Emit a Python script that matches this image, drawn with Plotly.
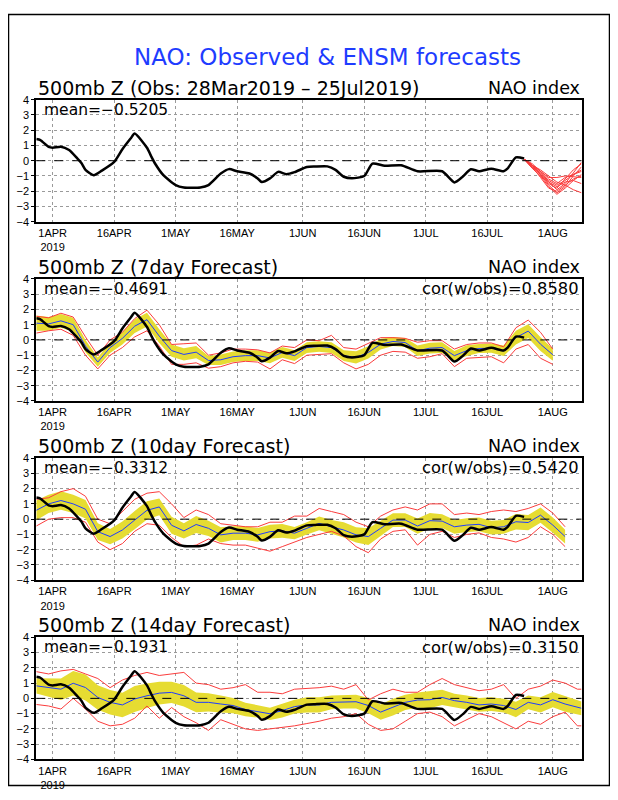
import pandas as pd
import plotly.graph_objects as go

# --- observed NAO index (day offset from 28Mar2019, value) ---
OBS_DAY = [0, 1, 3, 4, 6, 8, 10, 11, 12, 14, 16, 19, 21, 23, 24, 27, 28, 29, 31, 34,
           36, 40, 42, 45, 47, 49, 52, 54, 55, 57, 59, 61, 63, 66, 68, 71, 73, 75, 77, 80,
           82, 85, 89, 93, 99, 102, 104, 106, 108, 111, 114, 115, 117, 119]
OBS_VAL = [1.42, 1.35, 0.9, 0.85, 0.92, 0.7, 0.15, -0.15, -0.6, -0.95, -0.65, -0.08, 0.75, 1.45, 1.78, 0.85, 0.3, -0.2, -0.95, -1.6,
           -1.76, -1.76, -1.6, -0.84, -0.55, -0.69, -0.84, -1.16, -1.4, -1.16, -0.73, -0.88, -0.75, -0.41, -0.38, -0.37, -0.6, -1.05, -1.15, -1.0,
           -0.19, -0.33, -0.3, -0.69, -0.69, -1.42, -1.05, -0.56, -0.69, -0.52, -0.69, -0.5, 0.22, 0.15]

# --- ensemble members of the latest forecast (top panel) ---
ENS_DAY = [119, 121, 123, 125, 127, 129, 131, 133]
MEMBERS = [
    [0.1, -0.3, -0.8, -1.4, -1.9, -1.5, -0.8, -0.1],
    [0.1, -0.4, -0.9, -1.6, -2.1, -1.7, -1.0, -0.4],
    [0.1, -0.3, -0.7, -1.1, -1.1, -1.0, -1.05, -1.1],
    [0.1, -0.5, -1.0, -1.7, -2.2, -1.8, -1.3, -0.9],
    [0.1, -0.4, -0.8, -1.3, -1.6, -1.3, -0.9, -0.6],
    [0.1, -0.3, -0.9, -1.5, -1.8, -1.2, -0.6, -0.2],
    [0.1, -0.4, -1.1, -1.8, -2.0, -1.6, -1.2, -1.0],
    [0.1, -0.3, -0.6, -1.0, -1.4, -1.6, -1.9, -2.1],
    [0.1, -0.5, -1.0, -1.4, -1.7, -1.4, -1.3, -1.5],
    [0.1, -0.2, -0.7, -1.2, -1.5, -1.1, -0.9, -0.7],
]

# --- 7 day forecasts ---
F7_DAY = list(range(0, 127, 3))
F7_MEAN = [1.1, 1.05, 1.25, 1.0, -0.4, -1.45, -0.5, 0.1, 0.9, 1.33, 0.25, -0.7, -0.95, -0.8, -1.35, -1.3, -1.1, -1.03, -1.03, -1.18, -0.82, -1.03,
           -0.5, -0.43, -0.5, -1.03, -1.14, -0.82, -0.28, -0.1, -0.17, -0.71, -0.54, -0.5, -1.03, -0.7, -0.56, -0.54, -0.71, 0.15, 0.58, -0.28, -0.97]
F7_SD = [0.5, 0.45, 0.45, 0.45, 0.4, 0.3, 0.35, 0.4, 0.45, 0.45, 0.45, 0.4, 0.4, 0.4, 0.3, 0.35, 0.35, 0.35, 0.35, 0.35, 0.35, 0.35,
         0.35, 0.35, 0.35, 0.35, 0.4, 0.4, 0.35, 0.3, 0.3, 0.35, 0.35, 0.35, 0.3, 0.35, 0.3, 0.3, 0.35, 0.45, 0.45, 0.45, 0.4]
F7_HI = [1.55, 1.45, 1.75, 1.5, 0.2, -1.0, 0.0, 0.5, 1.4, 1.95, 1.0, -0.3, -0.25, -0.2, -1.0, -0.85, -0.6, -0.6, -0.65, -0.85, -0.4, -0.5,
         0.0, -0.05, 0.3, -0.5, -0.6, -0.2, 0.15, 0.15, 0.1, -0.15, -0.05, -0.05, -0.6, -0.3, -0.2, -0.2, -0.45, 0.8, 1.3, 0.5, -0.6]
F7_LO = [0.45, 0.6, 0.7, 0.3, -1.0, -1.9, -1.0, -0.5, 0.2, 0.6, -0.4, -1.6, -1.6, -1.5, -1.85, -1.75, -1.5, -1.4, -1.45, -1.9, -1.3, -1.55,
         -1.0, -0.95, -0.9, -1.5, -1.9, -1.6, -1.0, -0.75, -0.8, -1.2, -1.1, -0.9, -1.75, -1.2, -1.15, -1.1, -1.5, -0.6, -0.3, -1.2, -1.6]

# --- 10 day forecasts ---
F10_DAY = list(range(0, 130, 3))
F10_MEAN = [0.58, 1.0, 1.22, 1.0, 0.65, -0.82, -1.14, -0.71, -0.06, 0.58, 0.8, -0.4, -0.77, -0.35, -0.6, -1.03, -0.92, -0.92, -1.03, -0.82, -0.77, -0.92, -0.6,
            -0.28, -0.5, -0.71, -1.03, -1.14, -0.6, -0.06, -0.06, -0.45, -0.1, -0.13, -0.5, -0.39, -0.34, -0.56, -0.5, -0.17, -0.22, 0.26, -0.39, -1.14]
F10_SD = [0.65, 0.6, 0.6, 0.6, 0.6, 0.55, 0.5, 0.55, 0.6, 0.6, 0.55, 0.55, 0.5, 0.55, 0.5, 0.5, 0.45, 0.45, 0.45, 0.45, 0.45, 0.4, 0.4,
          0.45, 0.45, 0.5, 0.5, 0.55, 0.5, 0.45, 0.45, 0.5, 0.5, 0.45, 0.45, 0.45, 0.45, 0.45, 0.45, 0.5, 0.5, 0.5, 0.5, 0.45]
F10_HI = [1.3, 1.4, 1.8, 2.0, 1.5, 0.0, -0.3, 0.5, 1.3, 1.7, 1.8, 1.0, 0.1, 0.6, 0.3, -0.3, -0.4, -0.5, -0.5, -0.2, -0.2, 0.2, 0.2,
          0.7, 0.5, 0.3, -0.2, -0.5, 0.2, 0.6, 0.8, 0.6, 1.0, 1.0, 0.3, 0.4, 0.3, 0.5, 0.6, 0.5, 0.7, 1.0, 0.4, -0.5]
F10_LO = [-0.45, 0.0, 0.1, 0.1, -0.2, -1.5, -2.0, -1.6, -0.8, -0.3, -0.4, -1.2, -1.8, -1.7, -1.3, -1.6, -1.7, -1.7, -1.9, -2.1, -1.8, -1.5, -1.2,
          -1.0, -0.8, -1.1, -1.8, -2.2, -1.3, -0.8, -0.7, -1.7, -1.0, -0.8, -1.2, -1.0, -0.9, -1.2, -1.3, -1.5, -1.2, -0.5, -1.0, -1.8]

# --- 14 day forecasts ---
F14_DAY = list(range(0, 133, 3)) + [133]
F14_MEAN = [0.82, 0.71, 0.6, 0.99, 0.71, 0.06, -0.26, -0.43, -0.04, 0.17, 0.34, 0.39, 0.17, -0.26, -0.26, -0.37, -0.47, -0.73, -0.86, -1.01, -0.8, -0.54, -0.43,
            -0.43, -0.26, -0.22, -0.22, -0.47, -0.9, -0.58, -0.26, -0.11, -0.09, 0.06, -0.15, -0.26, -0.43, -0.37, -0.47, -0.73, -0.26, -0.43, -0.09, -0.37, -0.58, -0.65]
F14_SD = [0.5, 0.6, 0.7, 0.8, 0.85, 0.8, 0.8, 0.8, 0.85, 0.8, 0.75, 0.7, 0.7, 0.65, 0.6, 0.55, 0.5, 0.45, 0.4, 0.4, 0.45, 0.45, 0.5,
          0.5, 0.45, 0.45, 0.45, 0.5, 0.5, 0.55, 0.5, 0.5, 0.55, 0.5, 0.45, 0.45, 0.45, 0.45, 0.45, 0.5, 0.45, 0.5, 0.5, 0.5, 0.45, 0.45]
F14_HI = [1.75, 1.6, 1.8, 1.9, 1.6, 1.3, 0.7, 1.2, 1.5, 1.7, 1.5, 1.6, 1.7, 1.0, 0.9, 0.6, 0.7, 0.9, 0.4, 0.4, 0.3, 0.6, 0.65,
          0.7, 0.8, 0.6, 0.9, -0.1, 0.3, 0.6, 0.4, 0.4, 0.9, 1.3, 0.9, 0.7, 0.5, 0.6, 0.9, 0.0, 0.6, 0.8, 1.2, 1.0, 0.6, 0.6]
F14_LO = [-0.4, -0.5, -0.7, 0.0, -0.7, -1.5, -1.8, -1.7, -1.3, -0.5, -1.3, -0.6, -1.2, -1.6, -2.1, -1.4, -1.7, -2.0, -2.1, -2.0, -1.9, -1.8, -1.65,
          -1.5, -1.3, -1.2, -1.0, -1.7, -2.1, -2.0, -1.5, -1.0, -0.9, -1.2, -1.8, -1.4, -1.0, -1.2, -1.6, -2.0, -1.5, -1.7, -1.2, -0.9, -1.8, -1.8]

PANEL_TITLES = ["500mb Z (Obs: 28Mar2019 \u2013 25Jul2019)", "500mb Z (7day Forecast)",
                "500mb Z (10day Forecast)", "500mb Z (14day Forecast)"]
MEANS = ["\u22120.5205", "\u22120.4691", "\u22120.3312", "\u22120.1931"]
CORS = [None, "0.8580", "0.5420", "0.3150"]

TICK_DATES = ["2019-04-01", "2019-04-16", "2019-05-01", "2019-05-16", "2019-06-01",
              "2019-06-16", "2019-07-01", "2019-07-16", "2019-08-01"]
TICK_TEXT = ["1APR<br>2019", "16APR", "1MAY", "16MAY", "1JUN", "16JUN", "1JUL", "16JUL", "1AUG"]

BASE = pd.Timestamp("2019-03-28")

# the page puts an 8px margin round the figure, so the figure is 16px smaller
PAGE_PAD = 8
W, H = 618 - 2 * PAGE_PAD, 800 - 2 * PAGE_PAD

RED = "#fa3c3c"
BLUE = "#1e3cff"
YELLOW = "#e6dc32"
FONT = "DejaVu Sans"
TICK_FONT = "Liberation Sans Narrow, Liberation Sans, Arial"


def to_dates(days):
    return BASE + pd.to_timedelta(days, unit="D")


def px(x):
    # screen x pixel -> paper
    return (x - PAGE_PAD) / W


def py(y):
    # screen y pixel -> paper
    return 1 - (y - PAGE_PAD) / H


# panel pixel boxes on screen (top, bottom)
PANEL_PX = [(95, 219), (277, 401), (459, 583), (641, 765)]
X_DOM = [px(36.3), px(581.5)]

fig = go.Figure()
layout = {}
shapes = []
annotations = []

forecasts = [None,
             (F7_DAY, F7_MEAN, F7_SD, F7_HI, F7_LO),
             (F10_DAY, F10_MEAN, F10_SD, F10_HI, F10_LO),
             (F14_DAY, F14_MEAN, F14_SD, F14_HI, F14_LO)]

for i, (top, bot) in enumerate(PANEL_PX):
    n = "" if i == 0 else str(i + 1)
    xa, ya = "x" + n, "y" + n

    fc = forecasts[i]
    if fc is None:
        # ensemble members in red
        for m in MEMBERS:
            fig.add_trace(go.Scatter(x=to_dates(ENS_DAY), y=m, mode="lines",
                                     line=dict(color=RED, width=1), xaxis=xa, yaxis=ya,
                                     showlegend=False, hoverinfo="skip"))
    else:
        days, mean, sd, hi, lo = fc
        d = to_dates(days)
        upper = [a + b for a, b in zip(mean, sd)]
        lower = [a - b for a, b in zip(mean, sd)]
        # yellow spread band
        fig.add_trace(go.Scatter(x=d, y=upper, mode="lines", line=dict(width=0, color=YELLOW),
                                 xaxis=xa, yaxis=ya, showlegend=False, hoverinfo="skip"))
        fig.add_trace(go.Scatter(x=d, y=lower, mode="lines", line=dict(width=0, color=YELLOW),
                                 fill="tonexty", fillcolor=YELLOW,
                                 xaxis=xa, yaxis=ya, showlegend=False, hoverinfo="skip"))
        # max / min of the members
        for s in (hi, lo):
            fig.add_trace(go.Scatter(x=d, y=s, mode="lines", line=dict(color=RED, width=1),
                                     xaxis=xa, yaxis=ya, showlegend=False, hoverinfo="skip"))
        fig.add_trace(go.Scatter(x=d, y=mean, mode="lines", line=dict(color=BLUE, width=1),
                                 xaxis=xa, yaxis=ya, showlegend=False))

    # observed
    fig.add_trace(go.Scatter(x=to_dates(OBS_DAY), y=OBS_VAL, mode="lines",
                             line=dict(color="black", width=2.5, shape="spline", smoothing=0.6),
                             xaxis=xa, yaxis=ya, showlegend=False))

    layout["xaxis" + n] = dict(
        domain=X_DOM, anchor=ya, type="date",
        range=["2019-03-28", "2019-08-08"],
        tickvals=TICK_DATES, ticktext=TICK_TEXT, ticks="",
        tickfont=dict(family=TICK_FONT, size=11, color="black"),
        showgrid=True, gridcolor="#9a9a9a", griddash="dot", gridwidth=1,
        showline=True, mirror=True, linecolor="black", linewidth=2,
        zeroline=False, fixedrange=True,
    )
    layout["yaxis" + n] = dict(
        domain=[py(bot), py(top)], anchor=xa, range=[-4, 4],
        tickvals=list(range(-4, 5)), ticks="outside", ticklen=3, tickcolor="black",
        tickfont=dict(family="Liberation Sans, Arial", size=11, color="black"),
        showgrid=True, gridcolor="#9a9a9a", griddash="dot", gridwidth=1,
        showline=True, mirror=True, linecolor="black", linewidth=2,
        zeroline=False, fixedrange=True,
    )

    # zero line (dashed)
    shapes.append(dict(type="line", xref=xa + " domain", yref=ya, x0=0, x1=1, y0=0, y1=0,
                       line=dict(color="black", width=1, dash="dash")))

    # panel texts
    annotations.append(dict(text=PANEL_TITLES[i], xref="paper", yref="paper",
                            x=px(36), y=py(top - 12), xanchor="left", yanchor="middle",
                            showarrow=False, font=dict(family=FONT, size=19, color="black")))
    annotations.append(dict(text="NAO index", xref="paper", yref="paper",
                            x=px(582), y=py(top - 12), xanchor="right", yanchor="middle",
                            showarrow=False, font=dict(family=FONT, size=17.5, color="black")))
    annotations.append(dict(text="mean=" + MEANS[i], xref="paper", yref="paper",
                            x=px(42), y=py(top + 10), xanchor="left", yanchor="middle",
                            showarrow=False, font=dict(family=FONT, size=15.5, color="black")))
    if CORS[i]:
        annotations.append(dict(text="cor(w/obs)=" + CORS[i], xref="paper", yref="paper",
                                x=px(581), y=py(top + 10), xanchor="right", yanchor="middle",
                                showarrow=False, font=dict(family=FONT, size=16.3, color="black")))

annotations.append(dict(text="NAO: Observed &amp; ENSM forecasts", xref="paper", yref="paper",
                        x=px(327), y=py(52), xanchor="center", yanchor="middle",
                        showarrow=False, font=dict(family=FONT, size=23, color=BLUE)))

# outer frame
shapes.append(dict(type="rect", xref="paper", yref="paper",
                   x0=px(8.5), x1=px(609.5), y0=py(791.5), y1=py(8.5),
                   line=dict(color="black", width=1.5)))

fig.update_layout(
    width=W, height=H,
    margin=dict(l=0, r=0, t=0, b=0),
    paper_bgcolor="white", plot_bgcolor="white",
    shapes=shapes, annotations=annotations,
    **layout,
)

fig.write_html("out.html")
